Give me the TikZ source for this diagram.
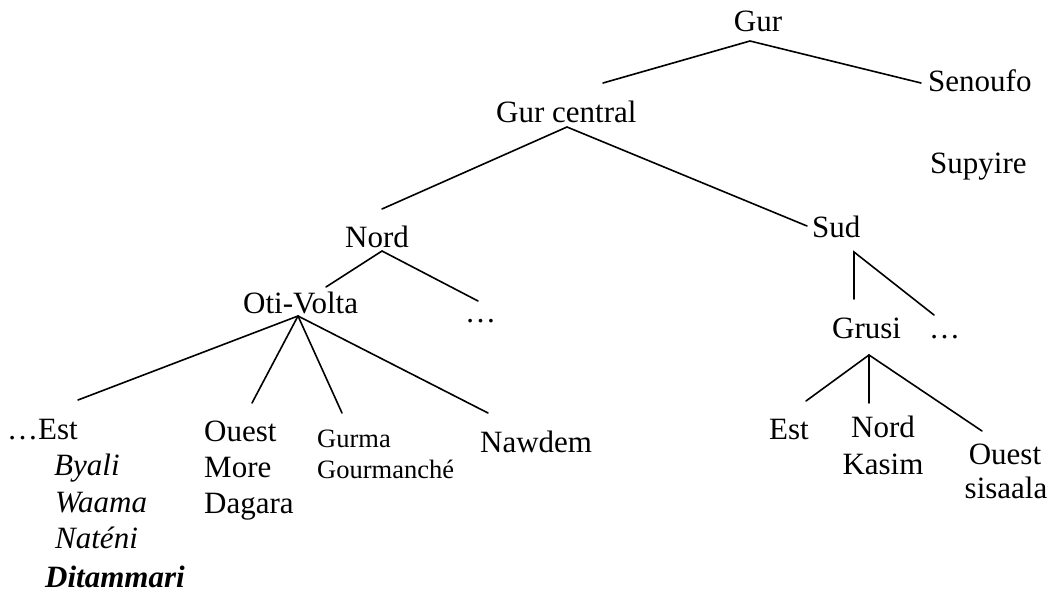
\documentclass[tikz,border=0pt]{standalone}
\usepackage{fontspec}
\setmainfont{Liberation Serif}
\begin{document}
\begin{tikzpicture}[x=1pt,y=-1pt,
  lbl/.style={inner sep=0pt,anchor=base west,font=\fontsize{31}{36}\selectfont},
  lblc/.style={inner sep=0pt,anchor=base,font=\fontsize{31}{36}\selectfont},
  sml/.style={inner sep=0pt,anchor=base west,font=\fontsize{26.5}{31}\selectfont},
  br/.style={line width=1.6pt,line cap=round}]
\useasboundingbox (0,0) rectangle (1053,594);
% labels
\node[lblc] (gur) at (758,32) {Gur};
\node[lbl] (senoufo) at (928,92) {Senoufo};
\node[lbl] (gurc) at (496,122) {Gur central};
\node[lbl] (supyire) at (930,173) {Supyire};
\node[lbl] (nord) at (345,247) {Nord};
\node[lbl] (sud) at (812,237) {Sud};
\node[lbl] (oti) at (243,313) {Oti-Volta};
\node[lbl] (dots1) at (465,322) {…};
\node[lbl] (grusi) at (832,338) {Grusi};
\node[lbl] (dots2) at (929,338) {…};
\node[lbl] (est) at (7,439) {…Est};
\node[lbl] (byali) at (54,475) {\itshape Byali};
\node[lbl] (waama) at (55,512) {\itshape Waama};
\node[lbl] (nateni) at (55,548) {\itshape Naténi};
\node[lbl] (ditam) at (45,587) {\bfseries\itshape Ditammari};
\node[lbl] (ouest) at (204,441) {Ouest};
\node[lbl] (more) at (204,477) {More};
\node[lbl] (dagara) at (204,513) {Dagara};
\node[sml] (gurma) at (317,447) {Gurma};
\node[sml] (gourm) at (317,478) {Gourmanché};
\node[lbl] (nawdem) at (480,452) {Nawdem};
\node[lbl] (gest) at (769,439) {Est};
\node[lblc] (gnord) at (883,437) {Nord};
\node[lblc] (kasim) at (883,474) {Kasim};
\node[lblc] (gouest) at (1005,464) {Ouest};
\node[lblc] (sisaala) at (1006,498) {sisaala};
% branch points
\coordinate (a1) at (750,41);
\coordinate (a1l) at (603,83);
\coordinate (a1r) at (921,83);
\coordinate (a2) at (567,127);
\coordinate (a2l) at (382,209);
\coordinate (a2r) at (807,226);
\coordinate (a3) at (382,251);
\coordinate (a3l) at (326,287);
\coordinate (a3r) at (478,301);
\coordinate (a4) at (298,316);
\coordinate (a4a) at (78,400);
\coordinate (a4b) at (252,403);
\coordinate (a4c) at (342,413);
\coordinate (a4d) at (488,413);
\coordinate (a5) at (854,252);
\coordinate (a5l) at (854,299);
\coordinate (a5r) at (934,315);
\coordinate (a6) at (869,355);
\coordinate (a6a) at (806,401);
\coordinate (a6b) at (869,403);
\coordinate (a6c) at (982,431);
% connectors
\draw[br] (a1l) -- (a1) -- (a1r);
\draw[br] (a2l) -- (a2) -- (a2r);
\draw[br] (a3l) -- (a3) -- (a3r);
\draw[br] (a4) -- (a4a);
\draw[br] (a4) -- (a4b);
\draw[br] (a4) -- (a4c);
\draw[br] (a4) -- (a4d);
\draw[br] (a5l) -- (a5) -- (a5r);
\draw[br] (a6) -- (a6a);
\draw[br] (a6) -- (a6b);
\draw[br] (a6) -- (a6c);
\end{tikzpicture}
\end{document}
